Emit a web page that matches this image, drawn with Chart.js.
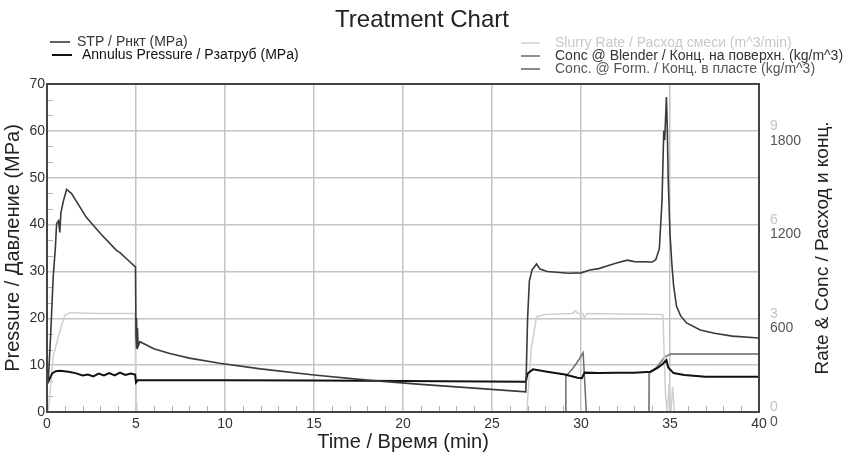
<!DOCTYPE html>
<html>
<head>
<meta charset="utf-8">
<script src="https://cdn.jsdelivr.net/npm/chart.js@4.4.0/dist/chart.umd.min.js"></script>
<style>
  html, body { margin: 0; padding: 0; background: #fff; }
  #wrap { width: 844px; height: 454px; }
</style>
</head>
<body>
<div id="wrap"><canvas id="treatmentChart" width="844" height="454"></canvas></div>
<script>
const FONT = '"Liberation Sans", Arial, sans-serif';

// --- data ---
const stpTime = [0, 0.07, 0.2, 0.35, 0.47, 0.54, 0.65, 0.72, 0.78, 0.92, 1.1, 1.38, 2.2, 3.0, 3.9, 4.1, 4.5, 4.9, 4.97,
  5.0, 5.02, 5.05, 5.08, 5.12, 5.22, 6.0, 6.9, 8.0, 9.7, 12, 15, 18, 21, 24, 26.9,
  27.0, 27.1, 27.25, 27.5, 27.7, 28.1, 29.3, 30.0, 30.5, 31.0, 31.5, 32.0, 32.6, 33.0, 34.0, 34.2, 34.4,
  34.55, 34.65, 34.7, 34.8, 34.85, 34.9, 35.0, 35.1, 35.2, 35.37, 35.6, 35.93, 36.7, 37.5, 38.5, 40];
const stpValues = [6.0, 6.5, 16, 29, 35, 40.2, 40.8, 38.3, 42.5, 45, 47.5, 46.6, 41.6, 38.1, 34.5, 34.0, 32.6, 31.2, 31.0,
  16, 20, 13.5, 18, 14, 15.0, 13.5, 12.5, 11.5, 10.4, 9.2, 7.9, 6.8, 5.9, 5.1, 4.3,
  20, 28, 30.3, 31.6, 30.5, 30.0, 29.6, 29.7, 30.3, 30.6, 31.2, 31.8, 32.4, 32.1, 32.0, 32.5, 34.8,
  45, 60, 58, 67.2, 60, 49.5, 38, 31.8, 27, 22.5, 20.5, 19, 17.5, 16.8, 16.2, 15.8];

const annulusTime = [0, 0.07, 0.3, 0.5, 0.75, 1.2, 1.6, 2.0, 2.3, 2.6, 2.9, 3.2, 3.5, 3.8, 4.1, 4.4, 4.7, 4.95,
  5.0, 5.1, 10, 15, 20, 26.9, 27.0, 27.3, 28.1, 29.1, 29.8, 30.05, 30.2, 31, 32, 33, 33.9, 34.3, 34.6, 34.8,
  34.9, 35.2, 35.8, 37, 40];
const annulusValues = [6.0, 6.5, 8.3, 8.7, 8.8, 8.6, 8.3, 7.8, 8.0, 7.6, 8.2, 7.8, 8.3, 7.8, 8.4, 7.9, 8.2, 8.0,
  6.3, 6.8, 6.8, 6.7, 6.6, 6.45, 8.2, 9.1, 8.6, 8.0, 7.3, 7.2, 8.4, 8.3, 8.4, 8.4, 8.6, 9.4, 10.3, 11.1,
  9.5, 8.3, 7.9, 7.5, 7.5];

const rateTime = [0, 0.07, 0.35, 0.73, 1.0, 1.3, 3.0, 4.94, 5.0, 5.05, 26.95, 27.2, 27.5, 28, 29.5, 29.7, 29.8,
  30.1, 30.2, 30.3, 34.6, 34.75, 34.85, 34.95, 35.05, 35.15, 35.25, 40];
const rateValues = [0, 0, 1.8, 2.6, 3.1, 3.18, 3.15, 3.15, 0.3, 0, 0, 2.0, 3.05, 3.12, 3.15, 3.24, 3.15,
  3.15, 3.0, 3.15, 3.12, 0.5, 0, 0.9, 0, 0.8, 0, 0];

const blenderTime = [0, 29.14, 29.15, 29.47, 29.8, 30.12, 30.3, 40];
const blenderValues = [0, 0, 230, 269, 320, 380, 0, 0];

const formTime = [0, 33.82, 33.83, 34.2, 34.72, 35.05, 40];
const formValues = [0, 0, 248, 280, 354, 371, 371];

const pressureTicks = [0, 10, 20, 30, 40, 50, 60, 70];
const rateTicks = [0, 3, 6, 9];
const concTicks = [0, 600, 1200, 1800];

const toPoints = (xs, ys) => xs.map((x, i) => ({ x: x, y: ys[i] }));

const series = [
  { label: 'STP / Рнкт (MPa)', time: stpTime, values: stpValues, color: '#3a3a3a', width: 1.6, axis: 'y' },
  { label: 'Annulus Pressure / Рзатруб (MPa)', time: annulusTime, values: annulusValues, color: '#111111', width: 2, axis: 'y' },
  { label: 'Slurry Rate / Расход смеси (m^3/min)', time: rateTime, values: rateValues, color: '#cfcfcf', width: 1.5, axis: 'yRate' },
  { label: 'Conc @ Blender / Конц. на поверхн. (kg/m^3)', time: blenderTime, values: blenderValues, color: '#6c6c6c', width: 1.5, axis: 'yConc' },
  { label: 'Conc. @ Form. / Конц. в пласте (kg/m^3)', time: formTime, values: formValues, color: '#8a8a8a', width: 2, axis: 'yConc' }
];

// legend layout: [dataset index, line x0, line x1, y, text x, text colour]
const legendRows = [
  [0, 50, 70, 42, 77, '#333333'],
  [1, 52, 72, 55, 82, '#111111'],
  [2, 521, 540, 43, 555, '#c8c8c8'],
  [3, 521, 540, 56, 555, '#333333'],
  [4, 521, 540, 69, 555, '#555555']
];

const decorPlugin = {
  id: 'decor',
  beforeDatasetsDraw(chart) {
    const { ctx, chartArea: a, scales } = chart;
    ctx.save();
    ctx.strokeStyle = '#b0b0b0';
    ctx.lineWidth = 1;
    ctx.beginPath();
    for (let t = 1; t < 40; t++) {
      if (t % 5 === 0) continue;
      const px = Math.round(scales.x.getPixelForValue(t)) + 0.5;
      ctx.moveTo(px, a.bottom);
      ctx.lineTo(px, a.bottom - 6);
    }
    for (let k = 1; k < 21; k++) {
      if (k % 3 === 0) continue;
      const py = Math.round(scales.y.getPixelForValue(k * 10 / 3)) + 0.5;
      ctx.moveTo(a.left, py);
      ctx.lineTo(a.left + 6, py);
    }
    ctx.stroke();
    ctx.restore();
  },
  afterDatasetsDraw(chart) {
    const { ctx, chartArea: a } = chart;
    ctx.save();
    ctx.strokeStyle = '#444';
    ctx.lineWidth = 2;
    ctx.strokeRect(a.left, a.top, a.right - a.left, a.bottom - a.top);
    ctx.restore();
  },
  afterDraw(chart) {
    const { ctx, chartArea: a, scales } = chart;
    ctx.save();
    // conc tick labels, sharing the right side with the rate labels
    ctx.font = '14px ' + FONT;
    ctx.fillStyle = '#555';
    ctx.textAlign = 'left';
    ctx.textBaseline = 'middle';
    concTicks.forEach(v => {
      ctx.fillText(String(v), a.right + 11, scales.yConc.getPixelForValue(v) + 10);
    });
    // right axis title (reads bottom to top)
    ctx.translate(823, (a.top + a.bottom) / 2);
    ctx.rotate(-Math.PI / 2);
    ctx.textAlign = 'center';
    ctx.fillStyle = '#222';
    ctx.font = '19px ' + FONT;
    ctx.fillText('Rate & Conc / Расход и конц.', 0, 0);
    ctx.restore();

    ctx.save();
    ctx.font = '14px ' + FONT;
    ctx.textBaseline = 'middle';
    legendRows.forEach(([i, x0, x1, y, tx, tc]) => {
      const ds = chart.data.datasets[i];
      ctx.strokeStyle = ds.borderColor;
      ctx.lineWidth = ds.borderWidth;
      ctx.beginPath();
      ctx.moveTo(x0, y);
      ctx.lineTo(x1, y);
      ctx.stroke();
      ctx.fillStyle = tc;
      ctx.fillText(ds.label, tx, y);
    });
    ctx.restore();
  }
};

new Chart(document.getElementById('treatmentChart'), {
  type: 'line',
  data: {
    datasets: series.map(s => ({
      label: s.label,
      data: toPoints(s.time, s.values),
      borderColor: s.color,
      backgroundColor: s.color,
      borderWidth: s.width,
      yAxisID: s.axis,
      pointRadius: 0,
      tension: 0,
      fill: false
    }))
  },
  options: {
    responsive: false,
    animation: false,
    layout: { padding: 0 },
    plugins: {
      legend: { display: false },
      tooltip: { enabled: false },
      title: {
        display: true,
        text: 'Treatment Chart',
        color: '#222',
        font: { family: FONT, size: 24, weight: 'normal' },
        padding: { top: 6, bottom: 49.2 }
      }
    },
    scales: {
      x: {
        type: 'linear',
        min: 0,
        max: 40,
        ticks: { stepSize: 5, color: '#333', font: { family: FONT, size: 14 }, padding: 4, maxRotation: 0 },
        grid: { color: '#c4c4c4', lineWidth: 1.5, drawTicks: false },
        border: { display: false },
        title: { display: true, text: 'Time / Время (min)', color: '#222', font: { family: FONT, size: 20 }, padding: { top: 0, bottom: 0 } },
        afterFit: s => { s.height = 42; }
      },
      y: {
        position: 'left',
        min: 0,
        max: 70,
        afterBuildTicks: s => { s.ticks = pressureTicks.map(v => ({ value: v })); },
        ticks: { color: '#333', font: { family: FONT, size: 14 }, padding: 2 },
        grid: { color: '#c4c4c4', lineWidth: 1.5, drawTicks: false },
        border: { display: false },
        title: { display: true, text: 'Pressure / Давление (MPa)', color: '#222', font: { family: FONT, size: 20 }, padding: { top: 1, bottom: 0 } },
        afterFit: s => { s.width = 47; }
      },
      yRate: {
        position: 'right',
        min: 0,
        max: 10.5,
        afterBuildTicks: s => { s.ticks = rateTicks.map(v => ({ value: v })); },
        ticks: { color: '#c4c4c4', font: { family: FONT, size: 14 }, padding: 11, labelOffset: -4.5 },
        grid: { drawOnChartArea: false, drawTicks: false },
        border: { display: false },
        afterFit: s => { s.width = 85; }
      },
      yConc: {
        display: false,
        position: 'right',
        min: 0,
        max: 2100
      }
    }
  },
  plugins: [decorPlugin]
});
</script>
</body>
</html>
